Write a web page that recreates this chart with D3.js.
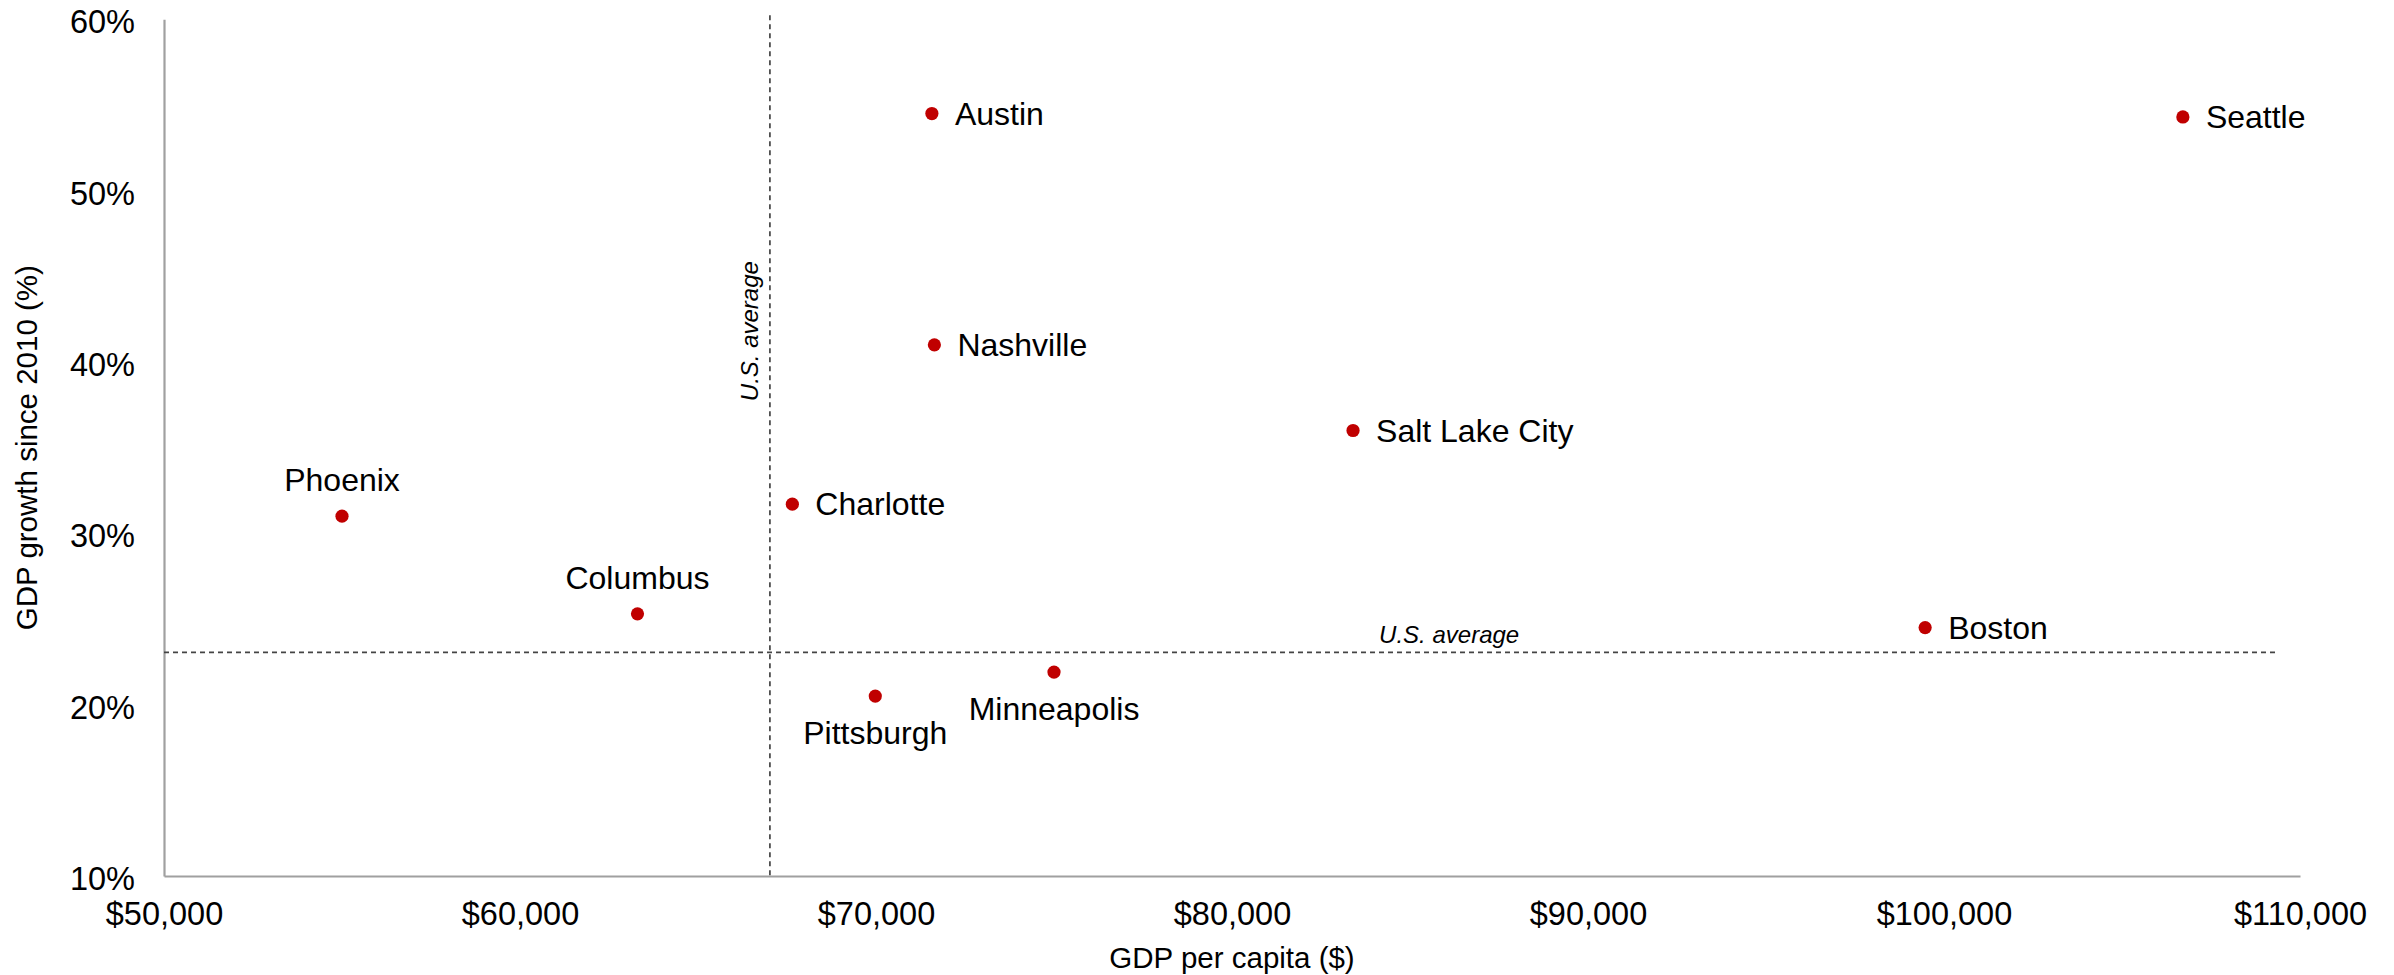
<!DOCTYPE html>
<html>
<head>
<meta charset="utf-8">
<script src="https://cdn.jsdelivr.net/npm/d3@7"></script>
<style>
  html, body { margin: 0; padding: 0; background: #fff; }
  svg { display: block; font-family: "Liberation Sans", Arial, sans-serif; }
</style>
</head>
<body>
<svg id="chart" width="2394" height="975"></svg>
<script>
// ---- Data ----
const cities = ["Phoenix", "Columbus", "Charlotte", "Austin", "Nashville", "Salt Lake City", "Pittsburgh", "Minneapolis", "Boston", "Seattle"];
const gdpPerCapita = [55000, 63300, 67650, 71570, 71640, 83400, 69980, 75000, 99470, 106710];
const gdpGrowth = [31.0, 25.3, 31.7, 54.5, 41.0, 36.0, 20.5, 21.9, 24.5, 54.3];
const labelPos = ["above", "above", "right", "right", "right", "right", "below", "below", "right", "right"];
const xTicks = [50000, 60000, 70000, 80000, 90000, 100000, 110000];
const yTicks = [10, 20, 30, 40, 50, 60];
const usAvgGdp = 67020;
const usAvgGrowth = 23.05;
const usAvgLineEnd = 109400;
const usAvgLabel = "U.S. average";
const xTitle = "GDP per capita ($)";
const yTitle = "GDP growth since 2010 (%)";

// ---- Layout ----
const svg = d3.select("#chart");
const x = d3.scaleLinear().domain([50000, 110000]).range([164, 2300]);
const y = d3.scaleLinear().domain([10, 60]).range([876, 19.3]);

const fmtMoney = d => "$" + d3.format(",")(d);

// Axes
const xAxis = svg.append("g").attr("transform", `translate(0,${y(10)})`)
  .call(d3.axisBottom(x).tickValues(xTicks).tickFormat(fmtMoney).tickSize(0).tickPadding(26));
const yAxis = svg.append("g").attr("transform", `translate(${x(50000)},0)`)
  .call(d3.axisLeft(y).tickValues(yTicks).tickFormat(d => d + "%").tickSize(0).tickPadding(29));
[xAxis, yAxis].forEach(g => {
  g.select(".domain").attr("stroke", "#a0a0a0").attr("stroke-width", 2.2);
  g.selectAll("text").attr("font-size", 32.5).attr("fill", "#000")
    .attr("font-family", "'Liberation Sans', Arial, sans-serif");
});
yAxis.selectAll("text").attr("dy", "0.42em");

// Axis titles
svg.append("text").attr("x", (x.range()[0] + x.range()[1]) / 2).attr("y", 968)
  .attr("text-anchor", "middle").attr("font-size", 29.5).attr("fill", "#000").text(xTitle);
svg.append("text")
  .attr("transform", `translate(37,${(y.range()[0] + y.range()[1]) / 2}) rotate(-90)`)
  .attr("text-anchor", "middle").attr("font-size", 29.5).attr("fill", "#000").text(yTitle);

// U.S. average reference lines
svg.append("line")
  .attr("x1", x(usAvgGdp)).attr("x2", x(usAvgGdp))
  .attr("y1", y(60) - 4).attr("y2", y(10))
  .attr("stroke", "#444").attr("stroke-width", 1.7).attr("stroke-dasharray", "5,4");
svg.append("line")
  .attr("x1", x(50000)).attr("x2", x(usAvgLineEnd))
  .attr("y1", y(usAvgGrowth)).attr("y2", y(usAvgGrowth))
  .attr("stroke", "#444").attr("stroke-width", 1.7).attr("stroke-dasharray", "5,4");

svg.append("text")
  .attr("transform", `translate(${x(usAvgGdp) - 12},${y(41.8)}) rotate(-90)`)
  .attr("text-anchor", "middle").attr("font-size", 24).attr("font-style", "italic")
  .attr("fill", "#000").text(usAvgLabel);
svg.append("text")
  .attr("x", x(86100)).attr("y", y(usAvgGrowth) - 9)
  .attr("text-anchor", "middle").attr("font-size", 24).attr("font-style", "italic")
  .attr("fill", "#000").text(usAvgLabel);

// Points
const data = cities.map((c, i) => ({ city: c, gdp: gdpPerCapita[i], growth: gdpGrowth[i], pos: labelPos[i] }));
const pts = svg.append("g").selectAll("g").data(data).join("g")
  .attr("transform", d => `translate(${x(d.gdp)},${y(d.growth)})`);
pts.append("circle").attr("r", 6.6).attr("fill", "#c00000");
pts.append("text")
  .attr("font-size", 32).attr("fill", "#000")
  .attr("text-anchor", d => d.pos === "right" ? "start" : "middle")
  .attr("x", d => d.pos === "right" ? 23 : 0)
  .attr("y", d => d.pos === "right" ? 11 : d.pos === "above" ? -25 : 48)
  .text(d => d.city);
</script>
</body>
</html>
